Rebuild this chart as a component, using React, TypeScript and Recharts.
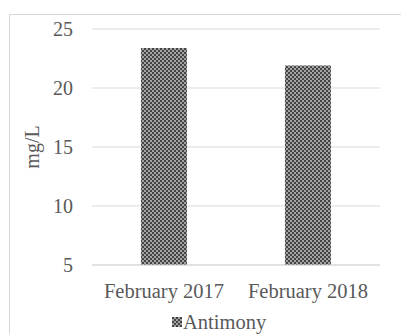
import React from "react";
import { BarChart, Bar, XAxis, YAxis, CartesianGrid, Legend, Label } from "recharts";

const categories = ["February 2017", "February 2018"];
const antimony = [23.4, 21.9];
const yTicks = [5, 10, 15, 20, 25];

const data = categories.map((month, i) => ({ month, antimony: antimony[i] }));

const FONT = "'Liberation Serif', 'Times New Roman', serif";
const TEXT = "#595959";
const GRID = "#d9d9d9";

function Checker({ id }: { id: string }) {
  return (
    <pattern id={id} width={4} height={4} patternUnits="userSpaceOnUse">
      <rect width={4} height={4} fill="#a3a3a3" />
      <rect width={2} height={2} fill="#444444" />
      <rect x={2} y={2} width={2} height={2} fill="#444444" />
    </pattern>
  );
}

// legend wrapper already starts at the left margin (32px)
function LegendContent() {
  return (
    <div style={{ position: "relative", height: 24, fontFamily: FONT, fontSize: 20.5, color: TEXT }}>
      <div style={{ position: "absolute", left: 140, top: 0, display: "flex", alignItems: "center", height: 24 }}>
        <svg width={10} height={10} style={{ marginRight: 1 }}>
          <defs>
            <Checker id="legendChecker" />
          </defs>
          <rect width={10} height={10} fill="url(#legendChecker)" />
        </svg>
        <span>Antimony</span>
      </div>
    </div>
  );
}

function AxisTitle({ viewBox }: any) {
  const x = 32;
  const y = viewBox.y + viewBox.height / 2;
  return (
    <text
      x={x}
      y={y}
      transform={`rotate(-90, ${x}, ${y})`}
      textAnchor="middle"
      dominantBaseline="central"
      fontFamily={FONT}
      fontSize={20}
      fill={TEXT}
    >
      mg/L
    </text>
  );
}

export default function App() {
  return (
    <div
      style={{
        position: "absolute",
        left: 0,
        top: 0,
        width: 401,
        height: 334,
        overflow: "hidden",
        background: "#fff",
      }}
    >
      <div
        style={{
          position: "absolute",
          left: 9,
          top: 14,
          width: 420,
          height: 360,
          border: `1px solid ${GRID}`,
        }}
      />
      <BarChart
        width={401}
        height={334}
        data={data}
        margin={{ top: 29, right: 21, bottom: 0, left: 32 }}
        barCategoryGap="34%"
        style={{ position: "absolute", left: 0, top: 0 }}
      >
        <defs>
          <Checker id="barChecker" />
        </defs>
        <CartesianGrid vertical={false} stroke={GRID} />
        <XAxis
          dataKey="month"
          height={45}
          axisLine={{ stroke: GRID }}
          tickLine={false}
          tickMargin={12}
          tick={{ fontFamily: FONT, fontSize: 20.5, fill: TEXT }}
        />
        <YAxis
          width={60}
          domain={[5, 25]}
          ticks={yTicks}
          axisLine={false}
          tickLine={false}
          tickMargin={13}
          tick={{ fontFamily: FONT, fontSize: 20, fill: TEXT }}
        >
          <Label content={<AxisTitle />} />
        </YAxis>
        <Legend verticalAlign="bottom" content={<LegendContent />} />
        <Bar dataKey="antimony" name="Antimony" fill="url(#barChecker)" isAnimationActive={false} />
      </BarChart>
    </div>
  );
}
